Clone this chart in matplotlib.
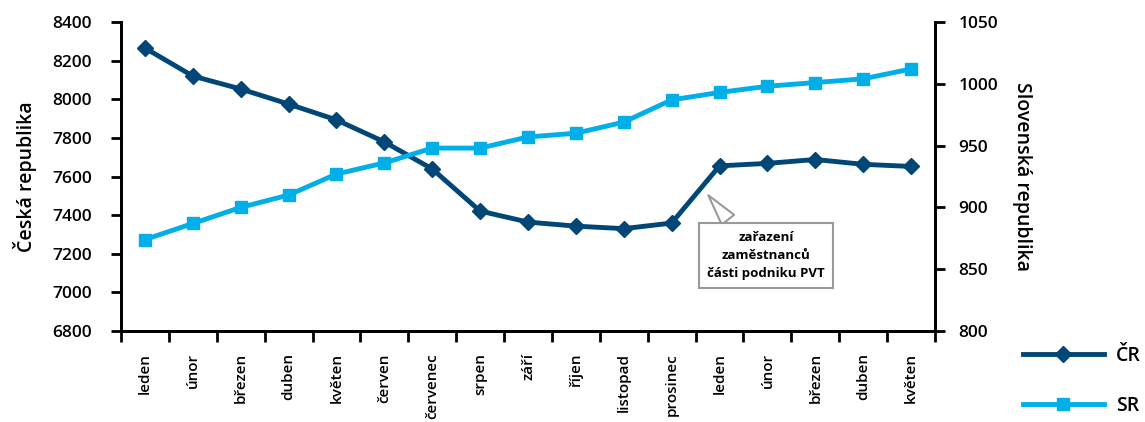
import matplotlib
matplotlib.use("Agg")
import matplotlib.pyplot as plt

plt.rcParams["font.family"] = ["Open Sans", "DejaVu Sans"]

mesice = ["leden", "únor", "březen", "duben", "květen", "červen", "červenec",
          "srpen", "září", "říjen", "listopad", "prosinec",
          "leden", "únor", "březen", "duben", "květen"]
cr = [8265, 8120, 8053, 7975, 7893, 7779, 7639, 7421, 7364, 7343, 7330,
      7359, 7655, 7668, 7688, 7663, 7652]
sr = [874, 887, 900, 910, 927, 936, 948, 948, 957, 960, 969, 987, 993,
      998, 1001, 1004, 1012]

c_cr = "#004676"
c_sr = "#00aee8"

fig = plt.figure(figsize=(11.45, 4.22), dpi=100)
ax = fig.add_axes([0.1057, 0.2156, 0.7109, 0.7323])
ax2 = ax.twinx()

x = list(range(len(mesice)))
l1, = ax.plot(x, cr, color=c_cr, lw=3.5, marker="D", markersize=8, label="ČR", zorder=3)
l2, = ax2.plot(x, sr, color=c_sr, lw=3.5, marker="s", markersize=8, label="SR", zorder=3)

ax.set_xlim(-0.5, len(mesice) - 0.5)
ax.set_ylim(6800, 8400)
ax2.set_ylim(800, 1050)
ax.set_yticks(range(6800, 8401, 200))
ax2.set_yticks(range(800, 1051, 50))

ax.set_xticks([i - 0.5 for i in range(len(mesice) + 1)])
ax.set_xticklabels([])
ax.set_xticks(x, minor=True)
ax.set_xticklabels(mesice, minor=True, rotation=90, fontsize=11, fontweight="semibold")
ax.tick_params(axis="x", which="minor", length=0, pad=16)
ax.tick_params(axis="x", which="major", length=8, width=2, direction="out")

for a in (ax, ax2):
    a.spines["top"].set_visible(False)
    for s in ("left", "right", "bottom"):
        a.spines[s].set_linewidth(2)
    a.tick_params(axis="y", length=7, width=2, labelsize=12.5)
    for t in a.get_yticklabels():
        t.set_fontweight("semibold")
ax.tick_params(axis="y", pad=14)
ax2.tick_params(axis="y", pad=10)

ax.set_ylabel("Česká republika", fontsize=14, fontweight="semibold", labelpad=11)
ax2.set_ylabel("Slovenská republika", fontsize=14, fontweight="semibold",
               rotation=270, labelpad=24)

ax.annotate("zařazení\nzaměstnanců\nčásti podniku PVT",
            xy=(11.73, 7514), xytext=(12.97, 7193),
            ha="center", va="center", fontsize=9.5, fontweight="bold",
            linespacing=1.5,
            bbox=dict(boxstyle="square,pad=0.6", fc="white", ec="#999999", lw=1.5),
            arrowprops=dict(arrowstyle="wedge,tail_width=1.2", fc="white",
                            ec="#999999", lw=1.5, relpos=(0.25, 1.0)),
            zorder=5)

fig.legend(handles=[l1, l2], loc="upper left", bbox_to_anchor=(0.888, 0.195),
           frameon=False, handlelength=4.2, handletextpad=0.6, labelspacing=1.55,
           borderaxespad=0, borderpad=0.3,
           prop={"weight": "semibold", "size": 14})

fig.savefig("out.png", dpi=100)
